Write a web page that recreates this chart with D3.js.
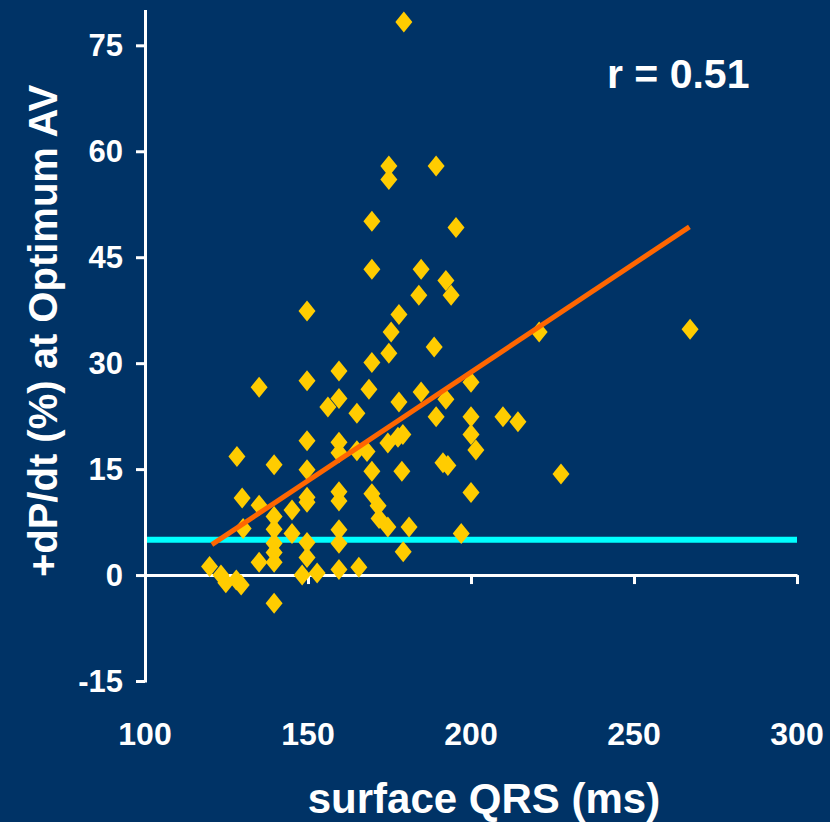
<!DOCTYPE html>
<html>
<head>
<meta charset="utf-8">
<script src="https://cdn.jsdelivr.net/npm/d3@7"></script>
<style>
  html, body { margin: 0; padding: 0; background: #003366; }
  svg { display: block; }
  text { font-family: "Liberation Sans", Arial, sans-serif; font-weight: bold; fill: #ffffff; }
</style>
</head>
<body>
<svg id="chart" width="830" height="822"></svg>
<script>
// Surface QRS duration (ms) for each patient
const qrs = [
  179.4, 174.8, 174.8, 189.3, 169.6, 195.4, 169.6, 184.7, 192.3, 184.0,
  193.9, 177.9, 175.5, 174.8, 188.7, 169.6, 159.5, 168.7, 159.5, 156.1,
  177.9, 184.7, 192.3, 200.0, 220.9, 165.0, 189.3, 200.0, 209.8, 214.4,
  159.5, 159.5, 165.0, 168.1, 174.5, 177.6, 179.1, 169.6, 178.8, 200.0,
  201.5, 191.4, 192.9, 200.0, 159.5, 159.5, 169.6, 171.5, 171.8, 174.5,
  181.0, 197.0, 159.5, 159.5, 179.2, 159.5, 165.6, 267.2, 227.6, 149.7,
  135.0, 149.7, 149.7, 128.2, 139.6, 149.7, 129.8, 135.0, 139.6, 139.6,
  139.6, 139.6, 139.6, 145.1, 145.1, 149.7, 149.7, 130.1, 135.0, 149.7,
  149.7, 148.2, 152.8, 139.6, 119.8, 123.3, 124.8, 128.0, 129.5
];
// +dP/dt change (%) at the optimum AV delay, same order
const dpdt = [
  78.3, 57.9, 56.0, 57.9, 50.1, 49.2, 43.3, 43.3, 41.7, 39.6,
  39.6, 36.9, 34.4, 31.4, 32.3, 30.1, 28.9, 26.3, 25.0, 23.8,
  24.5, 25.9, 24.9, 27.3, 34.4, 22.9, 22.4, 22.4, 22.4, 21.7,
  18.8, 17.3, 17.6, 17.5, 18.7, 19.5, 19.9, 14.7, 14.7, 19.9,
  17.7, 15.9, 15.5, 11.7, 11.8, 10.5, 11.5, 9.8, 8.0, 6.8,
  6.8, 5.9, 6.4, 4.5, 3.3, 0.8, 1.1, 34.8, 14.3, 37.4,
  26.6, 27.5, 19.0, 16.8, 15.6, 14.9, 10.9, 9.9, 8.3, 6.5,
  4.5, 3.2, 1.8, 9.2, 5.9, 11.0, 10.3, 6.6, 1.8, 4.6,
  2.5, 0.0, 0.3, -4.0, 1.2, 0.0, -1.1, -0.7, -1.4
];

// Axis ticks
const xTicks = [100, 150, 200, 250, 300];
const yTicks = [-15, 0, 15, 30, 45, 60, 75];

// Regression line end points (QRS, dP/dt) and the 5% response threshold
const trendQrs = [120.5, 267];
const trendDpdt = [4.3, 49.3];
const thresholdDpdt = 5;
const rLabel = "r = 0.51";

const svg = d3.select("#chart");
const W = 830, H = 822;

svg.append("rect").attr("width", W).attr("height", H).attr("fill", "#003366");

const x = d3.scaleLinear().domain([100, 300]).range([145, 797]);
const y = d3.scaleLinear().domain([-15, 80]).range([681, 10]);

// Horizontal threshold line
svg.append("line")
  .attr("x1", x(100)).attr("x2", x(300))
  .attr("y1", y(thresholdDpdt)).attr("y2", y(thresholdDpdt))
  .attr("stroke", "#00ffff").attr("stroke-width", 6);

// X axis along dP/dt = 0
const xAxis = svg.append("g")
  .attr("transform", `translate(0,${y(0)})`)
  .call(d3.axisBottom(x).tickValues(xTicks).tickSize(9).tickSizeOuter(0).tickFormat(""));
xAxis.select(".domain").attr("stroke", "#fff").attr("stroke-width", 3);
xAxis.selectAll(".tick line").attr("stroke", "#fff").attr("stroke-width", 3);

// Y axis
const yAxis = svg.append("g")
  .attr("transform", `translate(${x(100)},0)`)
  .call(d3.axisLeft(y).tickValues(yTicks).tickSize(9).tickSizeOuter(0).tickFormat(""));
yAxis.select(".domain").attr("stroke", "#fff").attr("stroke-width", 3)
  .attr("d", `M0.5,${y(-15) + 1.5}V${y(80)}`);
yAxis.selectAll(".tick line").attr("stroke", "#fff").attr("stroke-width", 3);

// Tick labels
svg.append("g").selectAll("text").data(yTicks).join("text")
  .attr("x", 123).attr("y", d => y(d) + 11)
  .attr("text-anchor", "end").attr("font-size", 31)
  .text(d => d);

svg.append("g").selectAll("text").data(xTicks).join("text")
  .attr("x", d => x(d)).attr("y", 745)
  .attr("text-anchor", "middle").attr("font-size", 32)
  .text(d => d);

// Data points as diamonds
const diamond = "M0,-10.5L8.5,0L0,10.5L-8.5,0Z";
svg.append("g").selectAll("path").data(d3.range(qrs.length)).join("path")
  .attr("d", diamond)
  .attr("transform", i => `translate(${x(qrs[i])},${y(dpdt[i])})`)
  .attr("fill", "#ffcc00");

// Regression line
svg.append("line")
  .attr("x1", x(trendQrs[0])).attr("y1", y(trendDpdt[0]))
  .attr("x2", x(trendQrs[1])).attr("y2", y(trendDpdt[1]))
  .attr("stroke", "#ff6600").attr("stroke-width", 5);

// Correlation label
svg.append("text")
  .attr("x", 607).attr("y", 88)
  .attr("font-size", 41)
  .text(rLabel);

// Axis titles
svg.append("text")
  .attr("x", 484).attr("y", 813)
  .attr("text-anchor", "middle").attr("font-size", 42)
  .text("surface QRS (ms)");

svg.append("text")
  .attr("transform", "translate(57,331) rotate(-90)")
  .attr("text-anchor", "middle").attr("font-size", 40)
  .text("+dP/dt (%) at Optimum AV");
</script>
</body>
</html>
